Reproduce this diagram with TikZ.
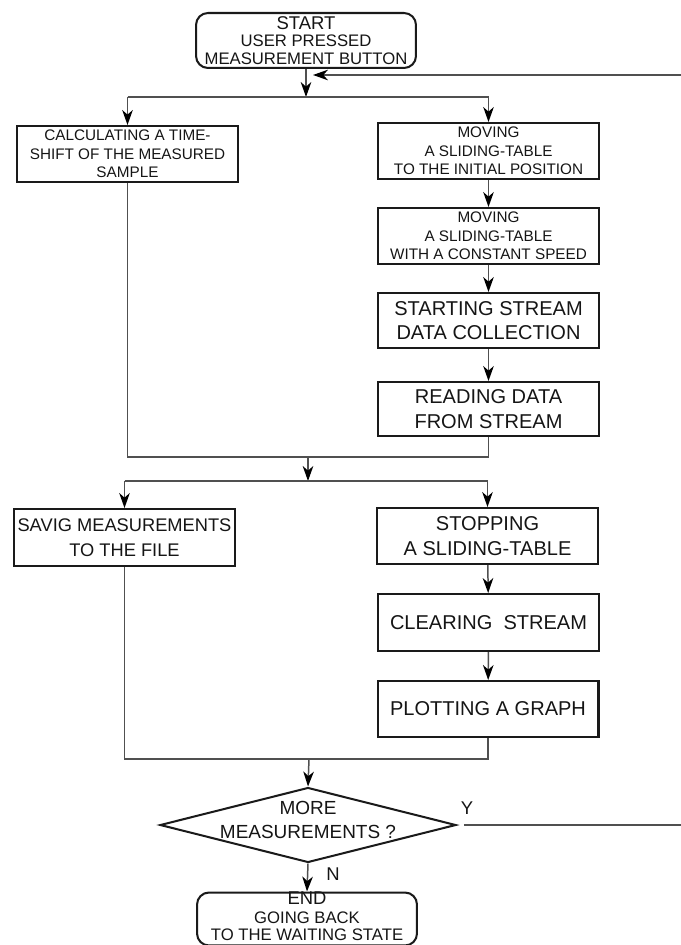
\documentclass[tikz,border=0pt]{standalone}
\usepackage{fontspec}
\setmainfont{Liberation Sans}
\usetikzlibrary{arrows.meta,shapes.geometric}
\definecolor{boxc}{HTML}{1A1A1A}
\definecolor{linec}{HTML}{505050}
\definecolor{txtc}{HTML}{151515}
\begin{document}
\begin{tikzpicture}[x=0.02cm,y=-0.02cm,
  box/.style={draw=boxc, line width=1.15pt, rectangle, inner sep=0pt, align=center,
    text=txtc, minimum width=4.42cm, minimum height=1.12cm},
  term/.style={box, rounded corners=0.24cm, minimum width=4.4cm},
  small/.style={font=\fontsize{8.7}{10.5}\selectfont},
  big/.style={font=\fontsize{11.4}{14}\selectfont},
  conn/.style={draw=linec, line width=0.85pt},
  arr/.style={conn, -{Stealth[length=8.5pt,width=6pt,inset=2.6pt,color=black]}},
  lab/.style={text=txtc, font=\fontsize{10.5}{12}\selectfont}
]
\useasboundingbox (0,0) rectangle (680,945);

% terminals
\node[term, minimum height=1.1cm] (start) at (306,40.5)
  {{\fontsize{10.5}{10.2}\selectfont START}\\[-2pt]
   {\fontsize{9.5}{10.2}\selectfont USER PRESSED}\\[-2pt]
   {\fontsize{9.5}{10.2}\selectfont MEASUREMENT BUTTON}};
\node[term, minimum height=1.06cm] (end) at (307,919) {};
\node[text=txtc, align=center, inner sep=0pt] (endtxt) at (307,916.5)
  {{\fontsize{10.5}{10}\selectfont END}\\[-1.5pt]
   {\fontsize{9.5}{10}\selectfont GOING BACK}\\[-2pt]
   {\fontsize{9.5}{10}\selectfont TO THE WAITING STATE}};

% left column
\node[box, small] (calc) at (127.5,154) {CALCULATING A TIME-\\SHIFT OF THE MEASURED\\SAMPLE};
\node[box, font=\fontsize{10.4}{14}\selectfont, minimum height=1.14cm] (save) at (124.5,537.5) {SAVIG MEASUREMENTS\\TO THE FILE};

% right column
\node[box, small] (move1) at (488.5,151) {MOVING\\A SLIDING-TABLE\\TO THE INITIAL POSITION};
\node[box, small] (move2) at (488.5,236) {MOVING\\A SLIDING-TABLE\\WITH A CONSTANT SPEED};
\node[box, big, minimum height=1.1cm] (sstream) at (488.5,320.5) {STARTING STREAM\\DATA COLLECTION};
\node[box, big, minimum height=1.08cm] (read) at (488.5,409) {READING DATA\\FROM STREAM};
\node[box, big] (stop) at (487.5,536) {STOPPING\\A SLIDING-TABLE};
\node[box, big, minimum height=1.14cm] (clear) at (488.5,622.5) {CLEARING\ \ STREAM};
\node[box, big] (plot) at (488,709) {PLOTTING A GRAPH};

% decision
\node[diamond, draw=boxc, line width=1.15pt, inner sep=0pt, minimum width=5.92cm, minimum height=1.5cm] (dec) at (308,825) {};
\node[text=txtc, align=center, font=\fontsize{10.8}{13.7}\selectfont] (dectxt) at (308,820) {MORE\\MEASUREMENTS ?};

% junction coordinates
\coordinate (j1) at (306,97);
\coordinate (m1) at (308,457);
\coordinate (j2) at (308,481);
\coordinate (m2) at (309,759);
\coordinate (rc1) at (700,825);
\coordinate (rc2) at (700,75);
\coordinate (rin) at (313,75);

% connectors
\draw[arr] (start.south) -- (j1);
\draw[conn] (calc.north |- j1) -- (move1.north |- j1);
\draw[arr] (calc.north |- j1) -- (calc.north);
\draw[arr] (move1.north |- j1) -- (move1.north);

\draw[arr] (move1) -- (move2);
\draw[arr] (move2) -- (sstream);
\draw[arr] (sstream) -- (read);

\draw[conn] (calc.south) |- (m1) -| (read.south);
\draw[arr] (m1) -- (j2);
\draw[conn] (save.north |- j2) -- (stop.north |- j2);
\draw[arr] (save.north |- j2) -- (save.north);
\draw[arr] (stop.north |- j2) -- (stop.north);

\draw[arr] (stop) -- (clear);
\draw[arr] (clear) -- (plot);

\draw[conn] (save.south) |- (m2) -| (plot.south);
\draw[arr] (m2) -- (dec.north);
\draw[arr] (dec.south) -- (end.north);

\draw[arr] ([xshift=0.14cm]dec.east) -- (rc1) -- (rc2) -- (rin);

% labels
\node[lab] (ylab) at (467,808) {Y};
\node[lab] (nlab) at (333,874) {N};
\end{tikzpicture}
\end{document}
